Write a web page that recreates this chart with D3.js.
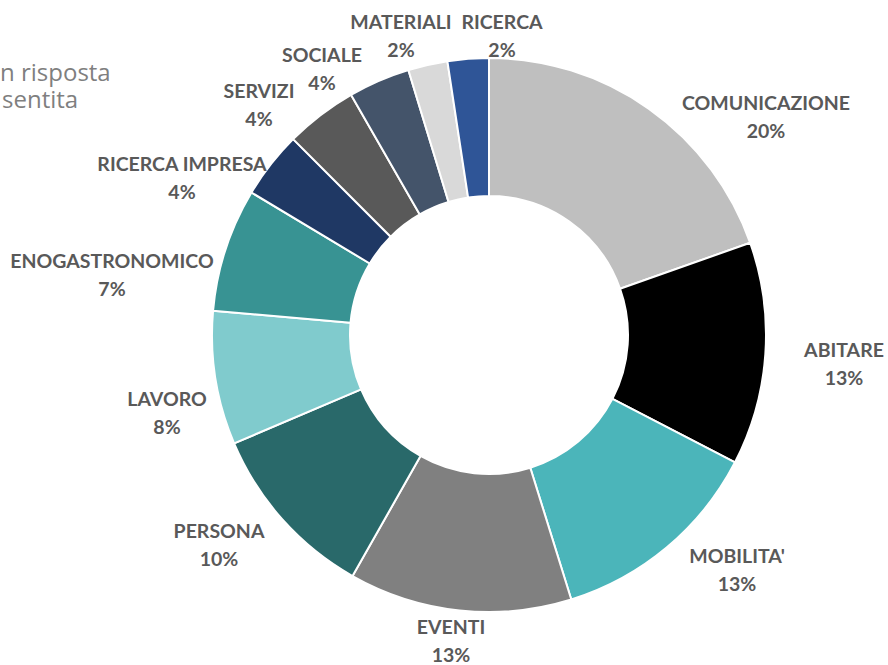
<!DOCTYPE html>
<html>
<head>
<meta charset="utf-8">
<script src="https://cdn.jsdelivr.net/npm/d3@7/dist/d3.min.js"></script>
<style>
  html, body { margin: 0; padding: 0; background: #fff; overflow: hidden; }
  svg { display: block; }
</style>
</head>
<body>
<svg id="chart" width="888" height="665"></svg>
<script>
// ---- data ----
const categories = ["COMUNICAZIONE", "ABITARE", "MOBILITA'", "EVENTI", "PERSONA", "LAVORO",
  "ENOGASTRONOMICO", "RICERCA IMPRESA", "SERVIZI", "SOCIALE", "MATERIALI", "RICERCA"];
const values = [19.6, 13.0, 12.6, 13.0, 10.4, 7.8, 7.2, 3.9, 4.2, 3.6, 2.3, 2.4];
const pctLabels = ["20%", "13%", "13%", "13%", "10%", "8%", "7%", "4%", "4%", "4%", "2%", "2%"];
const legendTexts = ["n risposta", "sentita"];

// ---- styles / layout ----
const colors = ["#bfbfbf", "#000000", "#4bb5ba", "#808080", "#29696a", "#80cbcd",
  "#389393", "#1f3864", "#595959", "#44546a", "#d9d9d9", "#2f5597"];
const labelPos = [[766, 102], [844, 349], [737, 555], [451, 626], [219, 530], [167, 398],
  [112, 260], [182, 163], [259, 90], [322, 54], [401, 21], [502, 21]];
const cx = 489, cy = 335, rOuter = 277, rInner = 139;

const svg = d3.select("#chart");
const data = categories.map((c, i) => ({ name: c, value: values[i], pct: pctLabels[i], i }));

const pie = d3.pie().sort(null).value(d => d.value);
const arc = d3.arc().innerRadius(rInner).outerRadius(rOuter);
const color = d3.scaleOrdinal().domain(categories).range(colors);

const g = svg.append("g").attr("transform", `translate(${cx},${cy})`);
g.selectAll("path")
  .data(pie(data))
  .join("path")
  .attr("d", arc)
  .attr("fill", d => color(d.data.name))
  .attr("stroke", "#ffffff")
  .attr("stroke-width", 2)
  .attr("stroke-linejoin", "round");

const lab = svg.append("g")
  .attr("font-family", "Lato, 'Open Sans', sans-serif")
  .attr("font-weight", 700)
  .attr("font-size", 19.5)
  .attr("fill", "#595959")
  .attr("text-anchor", "middle");

data.forEach((d, i) => {
  const [x, y] = labelPos[i];
  lab.append("text").attr("x", x).attr("y", y).attr("dominant-baseline", "central").text(d.name);
  lab.append("text").attr("x", x).attr("y", y + 28).attr("dominant-baseline", "central").text(d.pct);
});

// clipped legend text at top-left
const leg = svg.append("g")
  .attr("font-family", "'Open Sans', sans-serif")
  .attr("font-size", 24)
  .attr("fill", "#7f7f7f");
leg.append("text").attr("x", 0).attr("y", 81).text(legendTexts[0]);
leg.append("text").attr("x", 2).attr("y", 108).text(legendTexts[1]);
</script>
</body>
</html>
